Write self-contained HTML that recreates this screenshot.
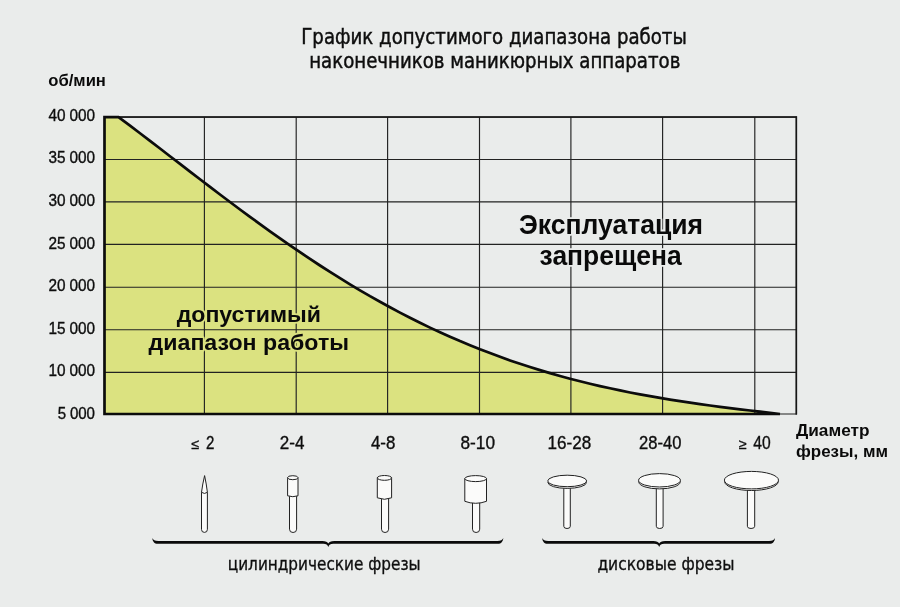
<!DOCTYPE html>
<html lang="ru">
<head>
<meta charset="utf-8">
<title>График допустимого диапазона работы наконечников маникюрных аппаратов</title>
<style>
html,body{margin:0;padding:0;background:#eaeceb;}
body{width:900px;height:607px;overflow:hidden;}
svg{display:block;}
text{font-family:"DejaVu Sans Condensed","DejaVu Sans","Liberation Sans",sans-serif;fill:#0e0e0e;stroke:#0e0e0e;stroke-width:0.32px;}
.n text,.n{font-family:"Liberation Sans","DejaVu Sans",sans-serif;word-spacing:-0.5px;stroke-width:0.36px;}
.b{font-family:"Liberation Sans","DejaVu Sans",sans-serif;font-weight:bold;stroke-width:0;fill:#0a0a0a;}
.hg{stroke:#eaeceb;stroke-width:3.6px;paint-order:stroke fill;stroke-linejoin:round;}
.hy{stroke:#dbe280;stroke-width:3.6px;paint-order:stroke fill;stroke-linejoin:round;}
</style>
</head>
<body>
<svg width="900" height="607" viewBox="0 0 900 607">
<rect width="900" height="607" fill="#eaeceb"/>

<!-- permitted area -->
<path id="area" fill="#dbe280" d="M104.5,117.2 L118.5,117.2 L130.0,125.7 L140.0,133.3 L150.0,140.9 L160.0,148.5 L170.0,156.2 L180.0,163.9 L190.0,171.6 L200.0,179.3 L210.0,186.9 L220.0,194.5 L230.0,202.0 L240.0,209.5 L250.0,216.8 L260.0,224.1 L270.0,231.3 L280.0,238.4 L290.0,245.4 L300.0,252.2 L310.0,258.9 L320.0,265.5 L330.0,271.9 L340.0,278.2 L350.0,284.4 L360.0,290.3 L370.0,296.2 L380.0,301.8 L390.0,307.3 L400.0,312.6 L410.0,317.8 L420.0,322.8 L430.0,327.6 L440.0,332.2 L450.0,336.7 L460.0,341.1 L470.0,345.2 L480.0,349.3 L490.0,353.1 L500.0,356.8 L510.0,360.4 L520.0,363.8 L530.0,367.0 L540.0,370.1 L550.0,373.1 L560.0,376.0 L570.0,378.7 L580.0,381.3 L590.0,383.7 L600.0,386.1 L610.0,388.3 L620.0,390.4 L630.0,392.5 L640.0,394.4 L650.0,396.2 L660.0,397.9 L670.0,399.6 L680.0,401.2 L690.0,402.7 L700.0,404.1 L710.0,405.5 L720.0,406.8 L730.0,408.1 L740.0,409.3 L750.0,410.5 L760.0,411.7 L770.0,412.9 L780.0,414.0 L104.5,414 Z"/>

<!-- grid -->
<g stroke="#222" stroke-width="1.15" fill="none">
<path d="M204.4,117V414 M296.2,117V414 M387.6,117V414 M479.5,117V414 M570.9,117V414 M662.6,117V414 M754.8,117V414 M796.2,116.6V414.5"/>
<path d="M104,117.1H796.7 M104,159.5H796.7 M104,201.9H796.7 M104,244.3H796.7 M104,287.2H796.7 M104,329.7H796.7 M104,372.3H796.7 M104,414H796.7"/>
</g>

<path d="M104,117.05H796.4V414.4" fill="none" stroke="#161616" stroke-width="1.5"/>
<!-- bold boundary -->
<path fill="none" stroke="#0c0c0c" stroke-width="2.7" stroke-linejoin="miter" d="M780,414 L104.5,414 L104.5,117.2 L118.5,117.2 L130.0,125.7 L140.0,133.3 L150.0,140.9 L160.0,148.5 L170.0,156.2 L180.0,163.9 L190.0,171.6 L200.0,179.3 L210.0,186.9 L220.0,194.5 L230.0,202.0 L240.0,209.5 L250.0,216.8 L260.0,224.1 L270.0,231.3 L280.0,238.4 L290.0,245.4 L300.0,252.2 L310.0,258.9 L320.0,265.5 L330.0,271.9 L340.0,278.2 L350.0,284.4 L360.0,290.3 L370.0,296.2 L380.0,301.8 L390.0,307.3 L400.0,312.6 L410.0,317.8 L420.0,322.8 L430.0,327.6 L440.0,332.2 L450.0,336.7 L460.0,341.1 L470.0,345.2 L480.0,349.3 L490.0,353.1 L500.0,356.8 L510.0,360.4 L520.0,363.8 L530.0,367.0 L540.0,370.1 L550.0,373.1 L560.0,376.0 L570.0,378.7 L580.0,381.3 L590.0,383.7 L600.0,386.1 L610.0,388.3 L620.0,390.4 L630.0,392.5 L640.0,394.4 L650.0,396.2 L660.0,397.9 L670.0,399.6 L680.0,401.2 L690.0,402.7 L700.0,404.1 L710.0,405.5 L720.0,406.8 L730.0,408.1 L740.0,409.3 L750.0,410.5 L760.0,411.7 L770.0,412.9 L780.0,414.0"/>

<!-- title -->
<text style="stroke-width:0.42px" x="301.3" y="44" font-size="20.6" textLength="385.5" lengthAdjust="spacingAndGlyphs">График допустимого диапазона работы</text>
<text style="stroke-width:0.42px" x="309.2" y="68" font-size="20.6" textLength="371.2" lengthAdjust="spacingAndGlyphs">наконечников маникюрных аппаратов</text>

<!-- y axis -->
<text class="b" x="48.3" y="86" font-size="16" textLength="57.6" lengthAdjust="spacingAndGlyphs">об/мин</text>
<g class="n" font-size="16" text-anchor="end">
<text x="95" y="121" textLength="46.4" lengthAdjust="spacingAndGlyphs">40 000</text>
<text x="95" y="163" textLength="46.4" lengthAdjust="spacingAndGlyphs">35 000</text>
<text x="95" y="206" textLength="46.4" lengthAdjust="spacingAndGlyphs">30 000</text>
<text x="95" y="249" textLength="46.4" lengthAdjust="spacingAndGlyphs">25 000</text>
<text x="95" y="291" textLength="46.4" lengthAdjust="spacingAndGlyphs">20 000</text>
<text x="95" y="334" textLength="46.4" lengthAdjust="spacingAndGlyphs">15 000</text>
<text x="95" y="376" textLength="46.4" lengthAdjust="spacingAndGlyphs">10 000</text>
<text x="95" y="419" textLength="37.2" lengthAdjust="spacingAndGlyphs">5 000</text>
</g>

<!-- big labels -->
<text class="b hg" x="519" y="234" font-size="27" textLength="184" lengthAdjust="spacingAndGlyphs">Эксплуатация</text>
<text class="b hg" x="539.6" y="265" font-size="27" textLength="142" lengthAdjust="spacingAndGlyphs">запрещена</text>
<text class="b hy" x="176.7" y="322" font-size="22.6" textLength="144.2" lengthAdjust="spacingAndGlyphs">допустимый</text>
<text class="b hy" x="148.6" y="350" font-size="22.6" textLength="200.4" lengthAdjust="spacingAndGlyphs">диапазон работы</text>

<!-- x labels -->
<g class="n" font-size="18.4" style="stroke-width:0.3px">
<text x="191.6" y="449" font-size="14.2">≤</text>
<text x="205.9" y="449" textLength="8.4" lengthAdjust="spacingAndGlyphs">2</text>
<text x="279.8" y="449" textLength="24.6" lengthAdjust="spacingAndGlyphs">2-4</text>
<text x="370.9" y="449" textLength="24.4" lengthAdjust="spacingAndGlyphs">4-8</text>
<text x="460.5" y="449" textLength="34.5" lengthAdjust="spacingAndGlyphs">8-10</text>
<text x="547.5" y="449" textLength="43.7" lengthAdjust="spacingAndGlyphs">16-28</text>
<text x="639.1" y="449" textLength="42.3" lengthAdjust="spacingAndGlyphs">28-40</text>
<text x="739.1" y="449" font-size="14.2">≥</text>
<text x="753.3" y="449" textLength="17.4" lengthAdjust="spacingAndGlyphs">40</text>
</g>
<text class="b" x="796" y="436" font-size="16.9" textLength="73.5" lengthAdjust="spacingAndGlyphs">Диаметр</text>
<text class="b" x="796" y="457" font-size="16.9" textLength="92" lengthAdjust="spacingAndGlyphs">фрезы, мм</text>

<!-- group captions -->
<text x="227.8" y="570" font-size="18.5" textLength="192.8" lengthAdjust="spacingAndGlyphs">цилиндрические фрезы</text>
<text x="597.4" y="570" font-size="18.5" textLength="137.2" lengthAdjust="spacingAndGlyphs">дисковые фрезы</text>

<!-- braces -->
<g fill="#0a0a0a" stroke="none">
<path d="M152.3,538.0 C153.1,540.0 154.8,540.9 158.3,540.9 L322.3,540.9 C325.8,540.9 327.5,541.8 328.3,543.6 C329.1,541.8 330.8,540.9 334.3,540.9 L497.3,540.9 C500.8,540.9 502.5,540.0 503.3,538.0 C503.0,541.5 501.3,543.8 497.8,543.8 L333.3,543.8 C330.5,543.8 329.0,544.8 328.3,546.9 C327.6,544.8 326.1,543.8 323.3,543.8 L157.8,543.8 C154.3,543.8 152.6,541.5 152.3,538.0 Z"/>
<path d="M542.2,538.0 C543.0,540.0 544.7,540.9 548.2,540.9 L653.2,540.9 C656.7,540.9 658.4,541.8 659.2,543.6 C660.0,541.8 661.7,540.9 665.2,540.9 L769.0,540.9 C772.5,540.9 774.2,540.0 775.0,538.0 C774.7,541.5 773.0,543.8 769.5,543.8 L664.2,543.8 C661.4,543.8 659.9,544.8 659.2,546.9 C658.5,544.8 657.0,543.8 654.2,543.8 L547.7,543.8 C544.2,543.8 542.5,541.5 542.2,538.0 Z"/>
</g>

<!-- icons -->
<g stroke="#222" stroke-width="1" fill="#fbfbfa" stroke-linejoin="round">
<!-- 1: pointed -->
<path d="M204.6,475.6 Q202.6,484 201.5,492.3 L201.5,529.4 A2.95,3 0 0 0 207.4,529.4 L207.4,492.3 Q206.4,484 204.6,475.6 Z"/>
<path fill="none" d="M201.5,492.3 Q204.5,494.6 207.4,492.3"/>
<!-- 2 -->
<path d="M289.5,495 L289.5,529.2 A3.55,3.3 0 0 0 296.6,529.2 L296.6,495 Z"/>
<path d="M287.6,477.6 L287.6,495.8 Q292.8,497.6 298,495.8 L298,477.6 Z"/>
<ellipse cx="292.8" cy="477.7" rx="5.2" ry="2"/>
<!-- 3 -->
<path d="M381.5,498 L381.5,529.2 A3.55,3.3 0 0 0 388.6,529.2 L388.6,498 Z"/>
<path d="M377.3,477.8 L377.3,497.8 Q384.45,500.8 391.6,497.8 L391.6,477.8 Z"/>
<ellipse cx="384.45" cy="477.9" rx="7.15" ry="2.4"/>
<!-- 4 -->
<path d="M472.5,501 L472.5,529.2 A3.6,3.3 0 0 0 479.7,529.2 L479.7,501 Z"/>
<path d="M464.8,478.6 L464.8,501.3 Q475.65,505.3 486.5,501.3 L486.5,478.6 Z"/>
<ellipse cx="475.65" cy="478.6" rx="10.85" ry="3"/>
<!-- 5 -->
<path d="M563.8,487 L563.8,526.3 A3.25,2.2 0 0 0 570.3,526.3 L570.3,487 Z"/>
<ellipse cx="567.2" cy="482.5" rx="19.3" ry="5.9"/>
<ellipse cx="567.2" cy="480.95" rx="19.5" ry="5.75"/>
<!-- 6 -->
<path d="M656.3,487 L656.3,526.3 A3.4,2.2 0 0 0 663.1,526.3 L663.1,487 Z"/>
<ellipse cx="659.5" cy="481.9" rx="20.7" ry="7"/>
<ellipse cx="659.5" cy="480.3" rx="20.9" ry="6.7"/>
<!-- 7 -->
<path d="M747.4,489 L747.4,526.3 A3.65,2.2 0 0 0 754.7,526.3 L754.7,489 Z"/>
<ellipse cx="751.45" cy="481.6" rx="26.8" ry="8.9"/>
<ellipse cx="751.45" cy="480.15" rx="27.05" ry="8.75"/>
</g>
</svg>
</body>
</html>
